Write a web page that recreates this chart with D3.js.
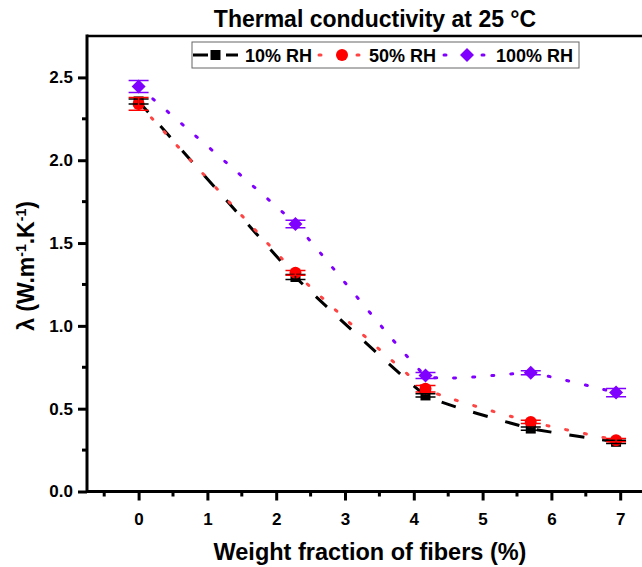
<!DOCTYPE html>
<html>
<head>
<meta charset="utf-8">
<script src="https://cdn.jsdelivr.net/npm/d3@7"></script>
<style>
  body { margin: 0; background: #fff; }
  svg { display: block; font-family: Arial, "Liberation Sans", sans-serif; font-weight: bold; }
</style>
</head>
<body>
<div id="chart"></div>
<script>
// data
const fiberFraction = [0, 2.28, 4.17, 5.7, 6.94];
const rh10 = [2.355, 1.295, 0.58, 0.38, 0.30];
const rh10Err = [0.015, 0.015, 0.01, 0.01, 0.01];
const rh50 = [2.34, 1.32, 0.62, 0.42, 0.31];
const rh50Err = [0.038, 0.015, 0.02, 0.01, 0.01];
const rh100 = [2.445, 1.615, 0.70, 0.717, 0.597];
const rh100Err = [0.036, 0.023, 0.018, 0.012, 0.025];
const seriesNames = ['10% RH', '50% RH', '100% RH'];
const xTicks = [0, 1, 2, 3, 4, 5, 6, 7];
const yTicks = [0, 0.5, 1.0, 1.5, 2.0, 2.5];

const W = 642, H = 567;
const svg = d3.select('#chart').append('svg')
    .attr('width', W).attr('height', H);

let x = d3.scaleLinear().domain([-0.75, 7.5]).range([87, 654.6]);
let y = d3.scaleLinear().domain([0, 2.75]).range([491.5, 36]);

let series = [
    {name: seriesNames[0], vals: rh10, err: rh10Err, color: '#000', lineColor: '#000', dash: '15,18', cap: 'butt', sym: 'square'},
    {name: seriesNames[1], vals: rh50, err: rh50Err, color: '#ff0000', lineColor: '#f44', dash: '2,17', cap: 'round', sym: 'circle'},
    {name: seriesNames[2], vals: rh100, err: rh100Err, color: '#8000ff', lineColor: '#8000ff', dash: '2,17', cap: 'round', sym: 'diamond'}
];

function marker(g, s, cx, cy) {
    if (s.sym === 'square') {
        g.append('rect').attr('x', cx - 5).attr('y', cy - 5).attr('width', 10).attr('height', 10).attr('fill', s.color);
    } else if (s.sym === 'circle') {
        g.append('circle').attr('cx', cx).attr('cy', cy).attr('r', 6).attr('fill', s.color);
    } else {
        g.append('path').attr('d', `M${cx},${cy - 7}L${cx + 7},${cy}L${cx},${cy + 7}L${cx - 7},${cy}Z`).attr('fill', s.color);
    }
}

// clip to the plot frame
svg.append('clipPath').attr('id', 'plotclip')
    .append('rect').attr('x', 87).attr('y', 36).attr('width', W - 87).attr('height', 455.5);

let plot = svg.append('g').attr('clip-path', 'url(#plotclip)');

let line = d3.line()
    .x((d, i) => x(fiberFraction[i]))
    .y(d => y(d))
    .curve(d3.curveCardinal.tension(0.7));

series.forEach(s => {
    plot.append('path')
        .attr('d', line(s.vals))
        .attr('fill', 'none')
        .attr('stroke', s.lineColor)
        .attr('stroke-width', 3)
        .attr('stroke-dasharray', s.dash)
        .attr('stroke-linecap', s.cap);
});

series.forEach(s => {
    s.vals.forEach((v, i) => marker(plot, s, x(fiberFraction[i]), y(v)));
});

// error bars
series.forEach(s => {
    s.vals.forEach((v, i) => {
        let cx = x(fiberFraction[i]);
        let top = y(v + s.err[i]), bot = y(v - s.err[i]);
        let g = plot.append('g').attr('stroke', s.color).attr('stroke-width', 1.5);
        g.append('line').attr('x1', cx).attr('x2', cx).attr('y1', top).attr('y2', bot);
        g.append('line').attr('x1', cx - 10).attr('x2', cx + 10).attr('y1', top).attr('y2', top);
        g.append('line').attr('x1', cx - 10).attr('x2', cx + 10).attr('y1', bot).attr('y2', bot);
    });
});

// axes
let xAxis = d3.axisBottom(x).tickValues(xTicks).tickFormat(d3.format('d')).tickSize(9).tickPadding(12);
let gx = svg.append('g').attr('transform', `translate(0,${y(0)})`).call(xAxis);
let yAxis = d3.axisLeft(y).tickValues(yTicks).tickFormat(d3.format('.1f')).tickSize(9).tickPadding(5);
let gy = svg.append('g').attr('transform', `translate(${x(-0.75)},0)`).call(yAxis);

[gx, gy].forEach(g => {
    g.select('.domain').remove();
    g.selectAll('.tick line').attr('stroke', '#000').attr('stroke-width', 3);
    g.selectAll('.tick text').attr('fill', '#000').style('font-size', '17px').style('font-weight', 'bold').style('font-family', 'Arial, "Liberation Sans", sans-serif');
});

// minor ticks
let xMinor = d3.range(-0.5, 7.5, 1);
svg.append('g').selectAll('line').data(xMinor).join('line')
    .attr('x1', d => x(d)).attr('x2', d => x(d))
    .attr('y1', y(0)).attr('y2', y(0) + 5)
    .attr('stroke', '#000').attr('stroke-width', 3);
let yMinor = d3.range(0.25, 2.75, 0.5);
svg.append('g').selectAll('line').data(yMinor).join('line')
    .attr('x1', x(-0.75)).attr('x2', x(-0.75) - 5)
    .attr('y1', d => y(d)).attr('y2', d => y(d))
    .attr('stroke', '#000').attr('stroke-width', 3);

// frame lines
svg.append('line').attr('x1', x(-0.75)).attr('x2', W).attr('y1', y(0)).attr('y2', y(0))
    .attr('stroke', '#000').attr('stroke-width', 3);
svg.append('line').attr('x1', x(-0.75)).attr('x2', x(-0.75)).attr('y1', y(2.75) - 1.5).attr('y2', y(0) + 1.5)
    .attr('stroke', '#000').attr('stroke-width', 3);
svg.append('line').attr('x1', x(-0.75)).attr('x2', W).attr('y1', y(2.75)).attr('y2', y(2.75))
    .attr('stroke', '#000').attr('stroke-width', 2.5);

// titles
svg.append('text').attr('x', 375).attr('y', 27).attr('text-anchor', 'middle')
    .style('font-size', '23px').text('Thermal conductivity at 25 °C');
svg.append('text').attr('x', 370).attr('y', 560).attr('text-anchor', 'middle')
    .style('font-size', '23.5px').text('Weight fraction of fibers (%)');

let yl = svg.append('text').attr('transform', 'translate(34,266) rotate(-90)').attr('text-anchor', 'middle')
    .style('font-size', '23px');
yl.append('tspan').text('λ (W.m');
yl.append('tspan').attr('baseline-shift', 'super').style('font-size', '14px').text('-1');
yl.append('tspan').text('.K');
yl.append('tspan').attr('baseline-shift', 'super').style('font-size', '14px').text('-1');
yl.append('tspan').text(')');

// legend
let lg = svg.append('g');
lg.append('rect').attr('x', 192).attr('y', 42).attr('width', 387).attr('height', 26)
    .attr('fill', '#fff').attr('stroke', '#666').attr('stroke-width', 1);
let legendX = [[193, 238, 245], [319, 365, 369], [444, 490, 496]];
series.forEach((s, i) => {
    let [a, b, t] = legendX[i];
    lg.append('line').attr('x1', a).attr('x2', b).attr('y1', 55).attr('y2', 55)
        .attr('stroke', s.lineColor).attr('stroke-width', 3)
        .attr('stroke-dasharray', s.dash).attr('stroke-linecap', s.cap);
    marker(lg, s, (a + b) / 2, 55);
    lg.append('text').attr('x', t).attr('y', 62).style('font-size', '18px').text(s.name);
});
</script>
</body>
</html>
